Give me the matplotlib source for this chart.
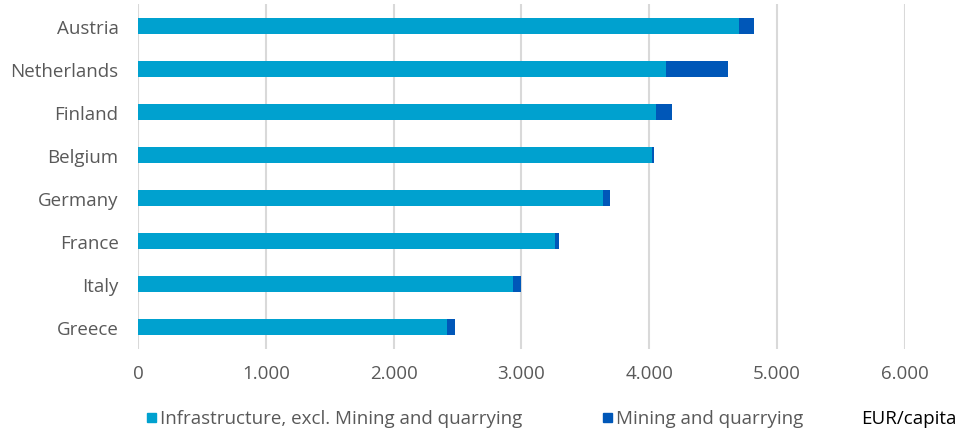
import matplotlib.pyplot as plt
import numpy as np

# EUR per capita, drawn top to bottom in list order
countries = ['Austria', 'Netherlands', 'Finland', 'Belgium', 'Germany', 'France', 'Italy', 'Greece']
infrastructure = [4700, 4134, 4051, 4017, 3639, 3263, 2932, 2415]
mining = [115, 480, 125, 18, 50, 31, 63, 68]
xticks = [0, 1000, 2000, 3000, 4000, 5000, 6000]
xtick_labels = ['0', '1.000', '2.000', '3.000', '4.000', '5.000', '6.000']

light = '#00A1CF'
dark = '#0057B8'
grey = '#595959'
fs = 13.5

plt.rcParams['font.family'] = ['Open Sans', 'DejaVu Sans']

fig = plt.figure(figsize=(9.62, 4.35), dpi=100)
ax = fig.add_axes([138 / 962, 1 - 350 / 435, (905 - 138) / 962, 345 / 435])

y = np.arange(len(countries))
ax.barh(y, infrastructure, height=0.37, color=light, zorder=3)
ax.barh(y, mining, left=infrastructure, height=0.37, color=dark, zorder=3)

ax.set_xlim(0, 6000)
ax.set_ylim(len(countries) - 0.5, -0.5)
ax.set_yticks(y)
ax.set_yticklabels(countries, fontsize=fs, color=grey)
ax.set_xticks(xticks)
ax.set_xticklabels(xtick_labels, fontsize=fs, color=grey)
ax.tick_params(length=0)
ax.tick_params(axis='y', pad=14)
ax.tick_params(axis='x', pad=11)
ax.grid(axis='x', color='#D9D9D9', linewidth=1.5, zorder=0)
for s in ax.spines.values():
    s.set_visible(False)

# legend row along the bottom
ly = 1 - 419 / 435
fig.patches.append(plt.Rectangle((147 / 962, ly - 4 / 435), 9 / 962, 9 / 435,
                                 transform=fig.transFigure, color=light))
fig.text(160 / 962, ly, 'Infrastructure, excl. Mining and quarrying',
         color=grey, fontsize=fs, va='center')
fig.patches.append(plt.Rectangle((603 / 962, ly - 4 / 435), 9 / 962, 9 / 435,
                                 transform=fig.transFigure, color=dark))
fig.text(616 / 962, ly, 'Mining and quarrying', color=grey, fontsize=fs, va='center')
fig.text(957 / 962, ly, 'EUR/capita', color='black', fontsize=fs, va='center', ha='right')

plt.savefig('out.png', dpi=100)
